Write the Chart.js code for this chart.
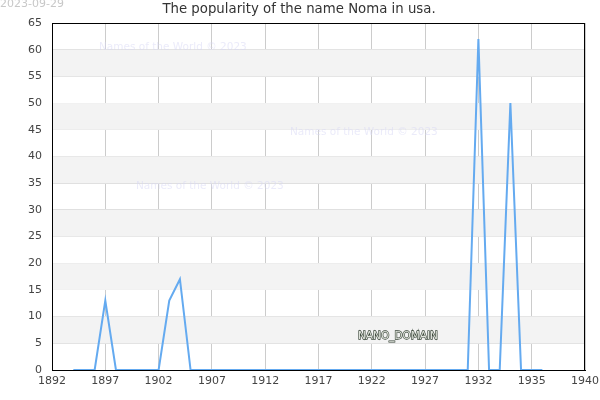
<!DOCTYPE html>
<html>
<head>
<meta charset="utf-8">
<script src="https://cdn.jsdelivr.net/npm/chart.js@4.4.0/dist/chart.umd.min.js"></script>
<style>
    html, body { margin: 0; padding: 0; background: #fff; }
    #wrap { width: 600px; height: 400px; }
</style>
</head>
<body>
<div id="wrap"><canvas id="grapNombre"></canvas></div>
<script>
// datos
const anios = [1894, 1895, 1896, 1897, 1898, 1899, 1900, 1901, 1902, 1903, 1904, 1905, 1906, 1907, 1908, 1909, 1910,
    1911, 1912, 1913, 1914, 1915, 1916, 1917, 1918, 1919, 1920, 1921, 1922, 1923, 1924, 1925, 1926, 1927, 1928, 1929,
    1930, 1931, 1932, 1933, 1934, 1935, 1936, 1937, 1938];
const valores = [0, 0, 0, 13, 0, 0, 0, 0, 0, 13, 17, 0, 0, 0, 0, 0, 0,
    0, 0, 0, 0, 0, 0, 0, 0, 0, 0, 0, 0, 0, 0, 0, 0, 0, 0, 0,
    0, 0, 62, 0, 0, 50, 0, 0, 0];
// etiquetas del eje x tal como aparecen
const etiquetasX = ['1892', '1897', '1902', '1907', '1912', '1917', '1922', '1927', '1932', '1935', '1940'];
const titulo = 'The popularity of the name Noma in usa.';
const fecha = '2023-09-29';
const marcaAgua = 'Names of the World © 2023';

//bandas grises y textos extra
const pluginFondo = {
    id: 'fondo',
    beforeDatasetsDraw(chart) {
        const ctx = chart.ctx;
        const a = chart.chartArea;
        const y = chart.scales.y;
        ctx.save();
        ctx.fillStyle = '#f3f3f3';
        for (let v = 5; v < 65; v += 10) {
            const y1 = y.getPixelForValue(v + 5);
            const y2 = y.getPixelForValue(v);
            ctx.fillRect(a.left, y1, a.right - a.left, y2 - y1);
        }
        ctx.restore();
    },
    afterDraw(chart) {
        const ctx = chart.ctx;
        const a = chart.chartArea;
        ctx.save();
        ctx.strokeStyle = '#000';
        ctx.lineWidth = 1;
        ctx.strokeRect(a.left + 0.5, a.top + 0.5, a.right - a.left - 1, a.bottom - a.top);
        ctx.font = '13.3px "DejaVu Sans"';
        ctx.fillStyle = '#333';
        ctx.textAlign = 'center';
        ctx.textBaseline = 'middle';
        ctx.fillText(titulo, 299, 10);
        ctx.font = '11px "DejaVu Sans"';
        ctx.fillStyle = '#c8c8c8';
        ctx.textAlign = 'left';
        ctx.fillText(fecha, 0, 4);
        ctx.font = '10.5px "DejaVu Sans"';
        ctx.fillStyle = 'rgba(215,215,245,0.5)';
        ctx.fillText(marcaAgua, 99, 47);
        ctx.fillText(marcaAgua, 290, 132);
        ctx.fillText(marcaAgua, 136, 186);
        ctx.font = '10.5px "DejaVu Sans"';
        ctx.fillStyle = '#e2e6de';
        ctx.strokeStyle = '#3a463a';
        ctx.lineWidth = 1.3;
        ctx.strokeText('NANO_DOMAIN', 358, 336);
        ctx.fillText('NANO_DOMAIN', 358, 336);
        ctx.restore();
    }
};

const grapNombre = document.getElementById('grapNombre').getContext('2d');
let config_grapNombre = {
    type: 'line',
    data: {
        datasets: [{
            label: 'Noma',
            data: anios.map((a, i) => ({ x: a, y: valores[i] })),
            borderColor: 'rgb(100,170,240)',
            borderWidth: 2,
            tension: 0,
            pointRadius: 0,
            fill: false
        }]
    },
    options: {
        responsive: true,
        maintainAspectRatio: false,
        animation: false,
        layout: { padding: { left: 0, right: 15, top: 23, bottom: 0 } },
        scales: {
            x: {
                type: 'linear',
                min: 1892,
                max: 1942,
                afterBuildTicks: (s) => {
                    s.ticks = etiquetasX.map((t, i) => ({ value: 1892 + i * 5 }));
                },
                afterFit: (s) => { s.height = 30; s.paddingLeft = 0; s.paddingRight = 0; },
                grid: { color: '#cccccc', drawTicks: false },
                border: { display: true, color: '#000', width: 1 },
                ticks: {
                    padding: 5,
                    color: '#444',
                    maxRotation: 0,
                    autoSkip: false,
                    font: { size: 11, family: "'DejaVu Sans'" },
                    callback: (v, i) => etiquetasX[i]
                }
            },
            y: {
                min: 0,
                max: 65,
                afterFit: (s) => { s.width = 52; s.paddingTop = 0; s.paddingBottom = 0; },
                grid: { color: '#dddddd', drawTicks: false },
                border: { display: true, color: '#000', width: 1 },
                ticks: {
                    stepSize: 5,
                    padding: 10,
                    color: '#444',
                    font: { size: 11, family: "'DejaVu Sans'" }
                }
            }
        },
        plugins: {
            legend: { display: false },
            tooltip: { enabled: false }
        }
    },
    plugins: [pluginFondo]
};
const grapNombreChart = new Chart(grapNombre, config_grapNombre);
</script>
</body>
</html>
